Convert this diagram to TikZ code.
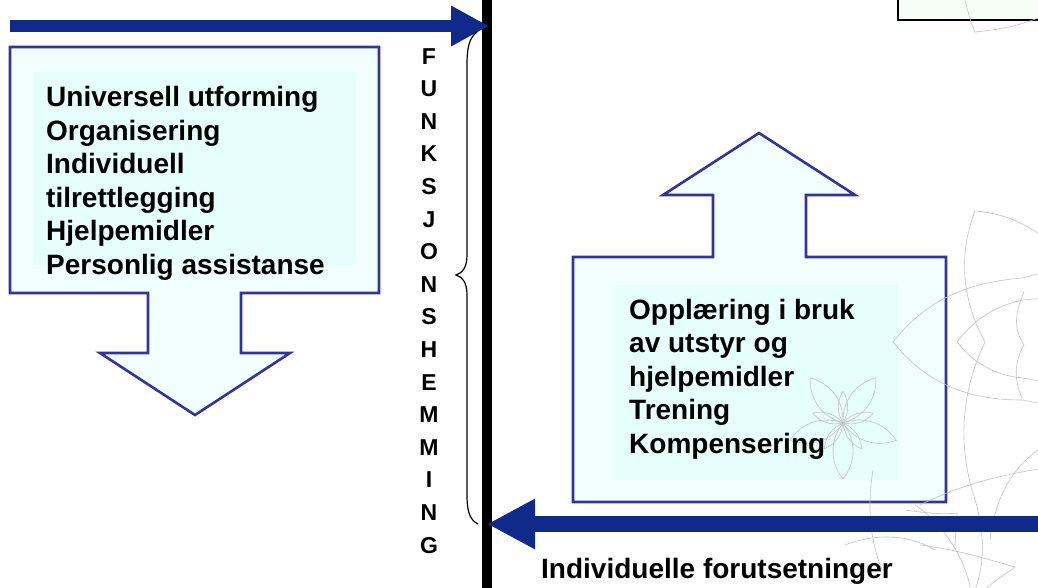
\documentclass[tikz,border=0pt]{standalone}
\usepackage{fontspec}
\setmainfont{Liberation Sans}
\usetikzlibrary{arrows.meta}
\definecolor{navy}{RGB}{16,42,138}
\definecolor{calloutline}{RGB}{51,51,153}
\definecolor{calloutfill}{RGB}{241,255,255}
\definecolor{innerfill}{RGB}{230,255,252}
\definecolor{boxfill}{RGB}{245,255,245}
\definecolor{decogray}{RGB}{195,195,195}
\tikzset{
  callout/.style={draw=calloutline, line width=2.6pt, fill=calloutfill, line join=miter},
  innerrect/.style={fill=innerfill, draw=none},
  deco/.style={draw=decogray, line width=0.6pt},
  bigarrow/.style={draw=navy, fill=navy},
  bodytext/.style={anchor=north west, inner sep=0pt, align=left, font=\bfseries\fontsize{28}{33.5}\selectfont},
  vertext/.style={anchor=north, inner sep=0pt, align=center, font=\bfseries\fontsize{23}{32.6}\selectfont},
  barstyle/.style={fill=black, draw=none, inner sep=0pt, minimum width=10pt, minimum height=600pt},
}
\begin{document}
\begin{tikzpicture}[x=1pt,y=-1pt]
\useasboundingbox (0,0) rectangle (1038,587);
\fill[white] (0,0) rectangle (1038,587);

% top-right box
\draw[black, line width=1.4pt, fill=boxfill] (898,-5) rectangle (1045,20);

% left callout (down arrow)
\draw[callout] (10,47) -- (379,47) -- (379,293) -- (241,293) -- (241,353) -- (290,353)
  -- (195,415) -- (100,353) -- (148,353) -- (148,293) -- (10,293) -- cycle;
\fill[innerrect] (33,72) rectangle (356,265);

% right callout (up arrow)
\draw[callout] (573,257) -- (713,257) -- (713,195) -- (663,195) -- (759,133) -- (855,195)
  -- (806,195) -- (806,257) -- (946,257) -- (946,502) -- (573,502) -- cycle;
\fill[innerrect] (615,285) rectangle (898,480);

% background ornaments
\begin{scope}[deco]
  % small star
  \foreach \a in {18,90,162,234,306}{
    \draw (843,423) to[bend left=38] ++(\a:56) to[bend left=38] (843,423);
  }
  \foreach \a in {54,126,198,270,342}{
    \draw (843,423) to[bend left=30] ++(\a:32) to[bend left=30] (843,423);
  }
  % top curve near box
  \draw (965,0) .. controls (968,12) and (971,24) .. (975,32) .. controls (995,30) and (1015,27) .. (1038,18);
  % large pattern
  \draw (975,211) .. controls (1000,213) and (1020,220) .. (1045,238);
  \draw (975,211) .. controls (958,255) and (962,300) .. (985,342)
        .. controls (962,390) and (958,440) .. (972,490)
        .. controls (982,520) and (988,555) .. (975,590);
  \draw (893,342) .. controls (930,295) and (975,282) .. (1022,278) -- (1045,272);
  \draw (893,342) .. controls (930,388) and (975,400) .. (1022,400) -- (1045,404);
  \draw (957,342) .. controls (975,318) and (998,305) .. (1023,300) -- (1045,298);
  \draw (957,342) .. controls (975,365) and (998,376) .. (1023,378) -- (1045,382);
  \draw (1024,292) .. controls (1014,315) and (1014,330) .. (1024,345)
        .. controls (1014,362) and (1014,380) .. (1022,398);
  \draw (873,470) .. controls (868,500) and (868,535) .. (882,570);
  \draw (920,505) .. controls (960,485) and (1000,475) .. (1045,468);
  \draw (915,505) .. controls (945,525) and (965,560) .. (970,587);
  \draw (845,545) .. controls (870,535) and (905,532) .. (935,550);
  \draw (920,545) .. controls (960,550) and (990,560) .. (1015,567) .. controls (1000,578) and (990,584) .. (985,590);
  \draw (905,510) .. controls (920,512) and (940,515) .. (957,513) -- (955,545);
  \draw (1038,450) .. controls (1010,470) and (995,500) .. (990,540);
\end{scope}

% vertical bar
\node[barstyle] (bar) at (487,293.5) {};

% connectors
\coordinate (ts) at (10,26);
\coordinate (te) at (489,26);
\coordinate (bs) at (1045,524);
\coordinate (be) at (487,524);
\draw[bigarrow, line width=12pt, -{Triangle[length=38pt,width=38pt]}] (ts) -- (te);
\draw[bigarrow, line width=16pt, -{Triangle[length=48pt,width=47pt]}] (bs) -- (be);

% brace
\coordinate (brtop) at (477,32);
\coordinate (brbot) at (478,524);
\coordinate (brtip) at (456,275);
\draw[black, line width=1.2pt] (brtop) .. controls (469,38) and (467,48) .. (467,65) -- (467,255)
  .. controls (467,268) and (462,273) .. (brtip) .. controls (462,277) and (467,282) .. (467,295)
  -- (467,495) .. controls (467,512) and (470,520) .. (brbot);

% texts
\node[bodytext] (lefttext) at (46,86.5) {Universell utforming\\Organisering\\Individuell\\tilrettlegging\\Hjelpemidler\\Personlig assistanse};
\node[bodytext] (righttext) at (629,299) {Opplæring i bruk\\av utstyr og\\hjelpemidler\\Trening\\Kompensering};
\node[vertext] (vert) at (429,48) {F\\U\\N\\K\\S\\J\\O\\N\\S\\H\\E\\M\\M\\I\\N\\G};
\node[anchor=base west, inner sep=0pt, font=\bfseries\fontsize{28}{33.5}\selectfont] (indiv) at (541,578) {Individuelle forutsetninger};
\end{tikzpicture}
\end{document}
